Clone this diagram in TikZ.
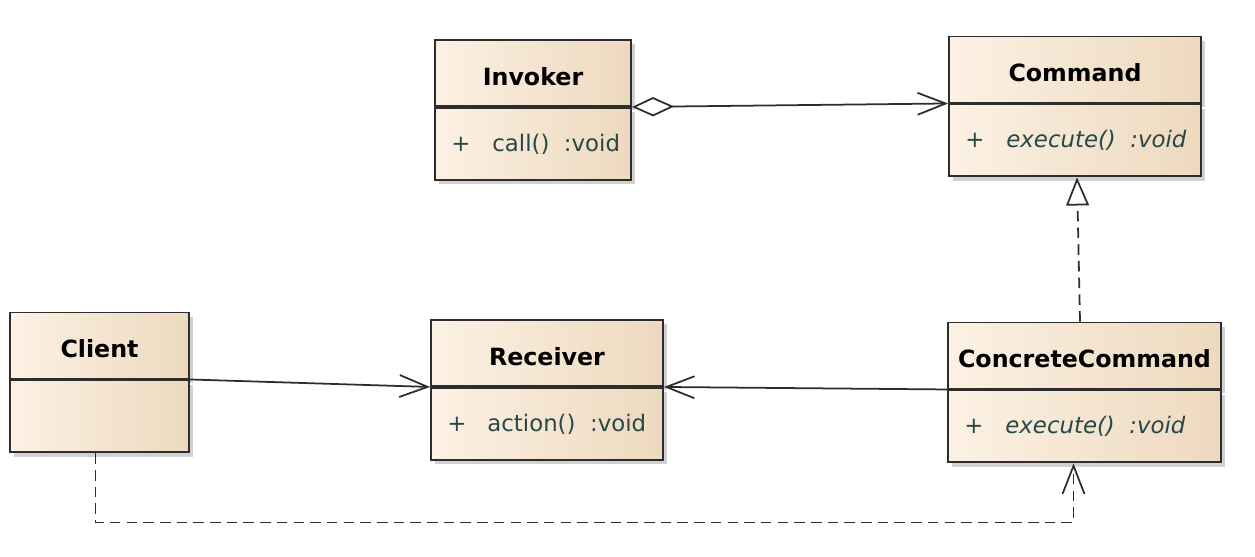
\documentclass[tikz,border=0pt]{standalone}
\usepackage{fontspec}
\setmainfont{DejaVu Sans}
\usetikzlibrary{arrows.meta,positioning,shadows,calc}

\definecolor{boxL}{RGB}{252,241,228}
\definecolor{boxR}{RGB}{237,217,190}
\definecolor{edge}{RGB}{45,45,45}
\definecolor{opcol}{RGB}{40,72,72}

\tikzset{
  classpart/.style={draw=edge, line width=1.1pt, left color=boxL, right color=boxR,
    inner sep=0pt, drop shadow={shadow xshift=2.5pt, shadow yshift=-2.5pt, fill=black!30, opacity=0.6}},
  classhead/.style={classpart, minimum height=1.32cm, text height=1.4em, text depth=0pt,
    font=\bfseries\fontsize{13.5}{16}\selectfont},
  classbody/.style={classpart, minimum height=1.44cm},
  member/.style={anchor=west, inner sep=0pt, text=opcol, font=\fontsize{13}{15}\selectfont},
  link/.style={draw=edge, line width=1pt},
  assoc/.style={link, -{Straight Barb[length=16pt, width=12.5pt]}},
  aggr/.style={link, {Diamond[length=24pt, width=11pt, fill=white]}-{Straight Barb[length=16pt, width=12.5pt]}},
  realize/.style={link, dash pattern=on 6pt off 3.5pt, -{Triangle[open, length=16pt, width=13pt, fill=white]}},
  depend/.style={link, dash pattern=on 6pt off 3.5pt, -{Straight Barb[length=16pt, width=12.5pt]}}
}

\begin{document}
\begin{tikzpicture}[x=0.02cm, y=-0.02cm]
    \useasboundingbox (0,0) rectangle (1255,556);

    % Klassen oben
    \node[classhead, minimum width=3.92cm] (invH) at (533,73) {Invoker};
    \node[classbody, minimum width=3.92cm, below=0pt of invH] (invB) {};
    \node[member] (invPlus) at ($(invB.west)+(17,0)$) {+};
    \node[member] (invOp) at ($(invB.west)+(58,0)$) {call()\ \ :void};

    \node[classhead, minimum width=5.04cm] (cmdH) at (1075,69.5) {Command};
    \node[classbody, minimum width=5.04cm, below=0pt of cmdH] (cmdB) {};
    \node[member] (cmdPlus) at ($(cmdB.west)+(17,0)$) {+};
    \node[member] (cmdOp) at ($(cmdB.west)+(58,0)$) {\itshape execute()\ \ :void};

    % Klassen unten
    \node[classhead, minimum width=3.58cm] (clientH) at (99.5,345.5) {Client};
    \node[classbody, minimum width=3.58cm, below=0pt of clientH] (clientB) {};

    \node[classhead, minimum width=4.64cm] (recH) at (547,353) {Receiver};
    \node[classbody, minimum width=4.64cm, below=0pt of recH] (recB) {};
    \node[member] (recPlus) at ($(recB.west)+(17,0)$) {+};
    \node[member] (recOp) at ($(recB.west)+(57,0)$) {action()\ \ :void};

    \node[classhead, minimum width=5.46cm] (ccH) at (1084.5,355.5) {ConcreteCommand};
    \node[classbody, minimum width=5.46cm, below=0pt of ccH] (ccB) {};
    \node[member] (ccPlus) at ($(ccB.west)+(17,0)$) {+};
    \node[member] (ccOp) at ($(ccB.west)+(58,0)$) {\itshape execute()\ \ :void};

    % Hilfspunkte
    \coordinate (ccTop) at ($(ccH.north)+(-4.5,0)$);
    \coordinate (cmdIn) at ($(cmdB.south)+(2,0)$);
    \coordinate (ccIn) at ($(ccB.south)+(-11,0)$);
    \coordinate (clBot) at ($(clientB.south)+(-4,0)$);

    % Beziehungen
    \draw[aggr] (invH.south east) -- (cmdH.south west);
    \draw[realize] (ccTop) -- (cmdIn);
    \draw[assoc] (clientH.south east) -- (recH.south west);
    \draw[assoc] (ccH.south west) -- (recH.south east);
    \draw[depend] (clBot) -- ++(0,69) -| (ccIn);
\end{tikzpicture}
\end{document}
